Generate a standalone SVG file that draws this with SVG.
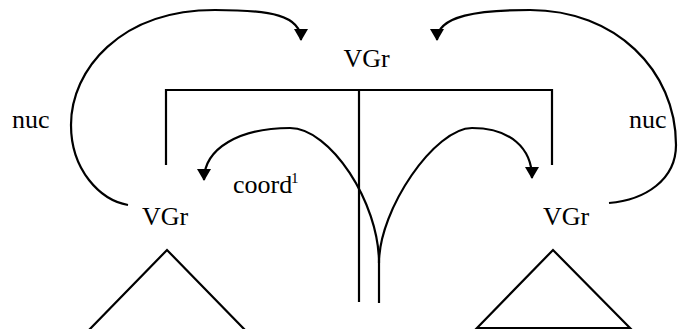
<svg xmlns="http://www.w3.org/2000/svg" width="679" height="329" viewBox="0 0 679 329">
<style>
.ln{fill:none;stroke:#000;stroke-width:2.2}
.t{font-family:"Liberation Serif","Times New Roman",serif;font-size:26px;fill:#000}
.sup{font-family:"Liberation Serif","Times New Roman",serif;font-size:15px;fill:#000}
</style>
<defs>
<marker id="ah" markerWidth="12" markerHeight="14" refX="11" refY="7" orient="auto" markerUnits="userSpaceOnUse" viewBox="0 0 12 14">
<path d="M0,0 L12,7 L0,14 Z" fill="#000"/>
</marker>
</defs>
<rect width="679" height="329" fill="#fff"/>
<g id="vgr-top"><text class="t" x="366.5" y="67" text-anchor="middle">VGr</text></g>
<g id="vgr-left"><text class="t" x="165" y="225" text-anchor="middle">VGr</text></g>
<g id="vgr-right"><text class="t" x="566" y="225" text-anchor="middle">VGr</text></g>
<g id="nuc-left"><text class="t" x="12" y="128">nuc</text></g>
<g id="nuc-right"><text class="t" x="629" y="128">nuc</text></g>
<g id="coord"><text class="t" x="233" y="193">coord</text><text class="sup" x="291" y="183">1</text></g>
<g id="tri-left"><path class="ln" d="M88,331 L167,250 L246,331"/></g>
<g id="tri-right"><path class="ln" d="M477,328 L553,250 L630,328 Z"/></g>
<g id="connectors">
<path class="ln" d="M166,165 L166,90 L552,90 L552,165"/>
<path class="ln" d="M359,90 L359,302"/>
<path class="ln" d="M379,303 L379,263"/>
<path class="ln" d="M379,263 C379,202 330,128 290,128 C240,128 204,148 204,180" marker-end="url(#ah)"/>
<path class="ln" d="M379,263 C379,209 435,128 472,128 C510,128 532,148 532,178" marker-end="url(#ah)"/>
<path class="ln" d="M128,205 C100,200 71,170 71,125 C71,70 120,10 215,10 C270,10 301,15 301,40" marker-end="url(#ah)"/>
<path class="ln" d="M609,203 C645,200 676,180 676,145 C676,70 615,10 530,10 C480,10 437,15 437,40" marker-end="url(#ah)"/>
</g>
</svg>
